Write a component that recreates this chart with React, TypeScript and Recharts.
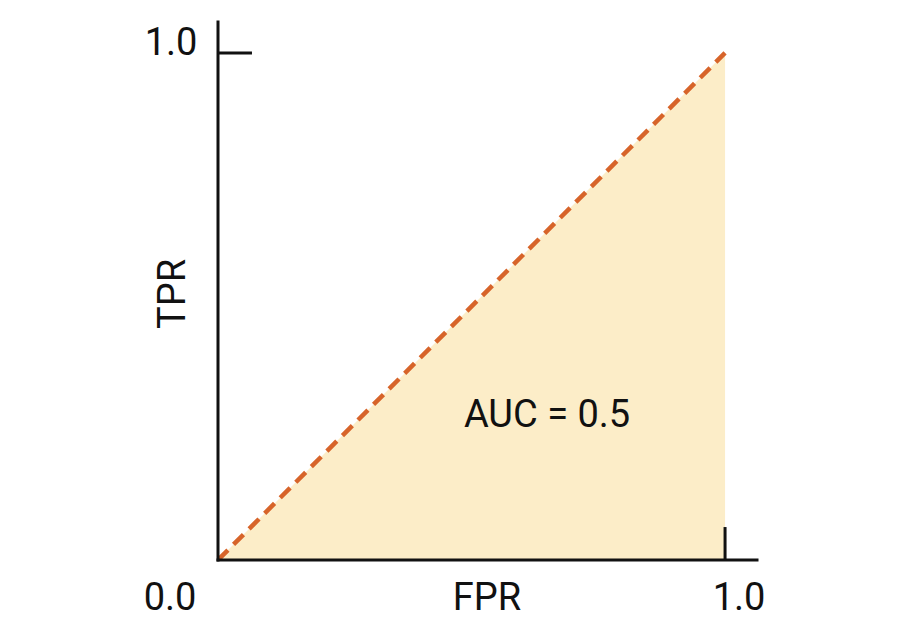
import {
  ComposedChart,
  Area,
  Line,
  XAxis,
  YAxis,
  ReferenceLine,
  ReferenceDot,
} from "recharts";

// ROC curve of a random classifier: the diagonal
const fprValues = [0, 1];
const tprValues = [0, 1];
const tickLabels = ["0.0", "1.0"];
const axisTitles = ["FPR", "TPR"];
const aucText = "AUC = 0.5";

const rocData = fprValues.map((fpr, i) => ({ x: fpr, y: tprValues[i] }));

const X_MAX = 1.063;
const Y_MAX = 1.061;
const FONT = "Roboto, 'Noto Sans', sans-serif";
const FILL = "#fcedc8";
const LINE = "#d7642a";
const INK = "#111";

// draws a text at a fixed offset from a reference dot
const textAt =
  (value: string, dx: number, dy: number, rotate = false) =>
  (props: any) => {
    const vb = props.viewBox || {};
    const cx = vb.x + (vb.width || 0) / 2 + dx;
    const cy = vb.y + (vb.height || 0) / 2 + dy;
    return (
      <text
        x={cx}
        y={cy}
        textAnchor="middle"
        fontFamily={FONT}
        fontSize={38}
        fill={INK}
        transform={rotate ? `rotate(-90, ${cx}, ${cy})` : undefined}
      >
        {value}
      </text>
    );
  };

export default function App() {
  return (
    <ComposedChart
      width={892}
      height={620}
      data={rocData}
      margin={{ top: 14, right: 143, bottom: 68, left: 210 }}
    >
      <XAxis dataKey="x" type="number" domain={[0, X_MAX]} allowDataOverflow hide />
      <YAxis type="number" domain={[0, Y_MAX]} allowDataOverflow hide />
      <Area
        type="linear"
        dataKey="y"
        fill={FILL}
        fillOpacity={1}
        stroke="none"
        isAnimationActive={false}
      />
      <Line
        type="linear"
        dataKey="y"
        stroke={LINE}
        strokeWidth={4.5}
        strokeDasharray="14 8"
        dot={false}
        activeDot={false}
        isAnimationActive={false}
      />
      {/* axes */}
      <ReferenceLine
        segment={[{ x: 0, y: 0 }, { x: 0, y: Y_MAX }]}
        stroke={INK}
        strokeWidth={3}
        strokeLinecap="square"
        ifOverflow="visible"
      />
      <ReferenceLine
        segment={[{ x: 0, y: 0 }, { x: X_MAX, y: 0 }]}
        stroke={INK}
        strokeWidth={3}
        strokeLinecap="square"
        ifOverflow="visible"
      />
      {/* inward tick marks */}
      <ReferenceLine
        segment={[{ x: 0, y: 1 }, { x: 0.067, y: 1 }]}
        stroke={INK}
        strokeWidth={3}
        ifOverflow="visible"
      />
      <ReferenceLine
        segment={[{ x: 1, y: 0 }, { x: 1, y: 0.065 }]}
        stroke={INK}
        strokeWidth={3}
        ifOverflow="visible"
      />
      <ReferenceDot x={0} y={1} r={0} stroke="none" ifOverflow="visible" label={textAt(tickLabels[1], -47, 2)} />
      <ReferenceDot x={0} y={0} r={0} stroke="none" ifOverflow="visible" label={textAt(tickLabels[0], -48, 50)} />
      <ReferenceDot x={1} y={0} r={0} stroke="none" ifOverflow="visible" label={textAt(tickLabels[1], 14, 50)} />
      <ReferenceDot x={0.5} y={0} r={0} stroke="none" ifOverflow="visible" label={textAt(axisTitles[0], 15.5, 50)} />
      <ReferenceDot x={0} y={0.5} r={0} stroke="none" ifOverflow="visible" label={textAt(axisTitles[1], -33, -12.5, true)} />
      <ReferenceDot x={0.5} y={0.5} r={0} stroke="none" ifOverflow="visible" label={textAt(aucText, 75.5, 120.5)} />
    </ComposedChart>
  );
}
